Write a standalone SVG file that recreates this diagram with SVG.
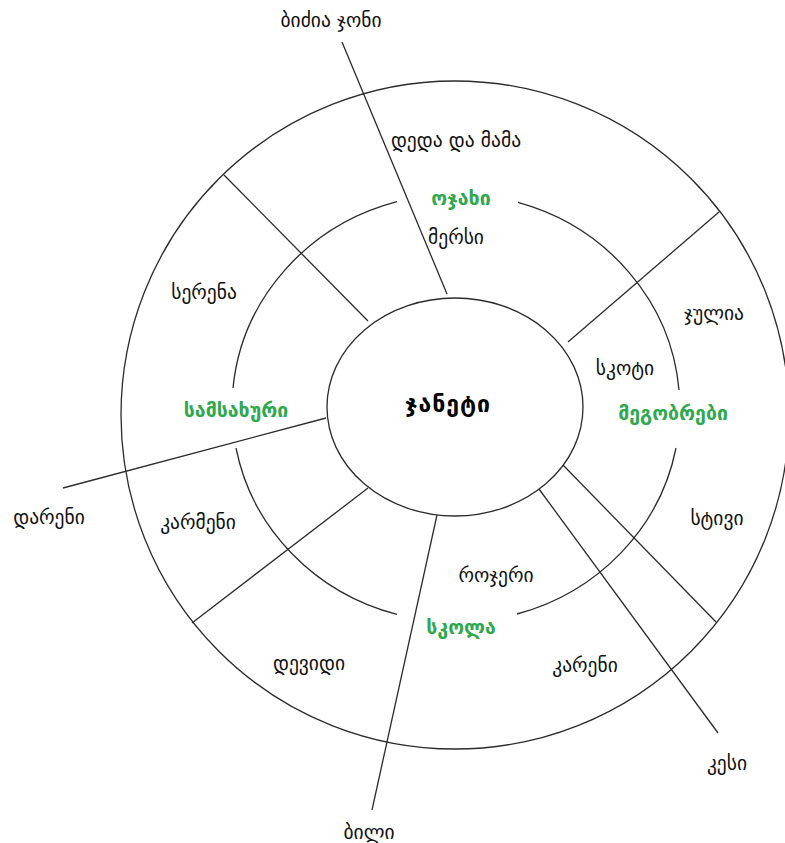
<svg xmlns="http://www.w3.org/2000/svg" width="785" height="843" viewBox="0 0 785 843">
<style>
.ln{fill:none;stroke:#2b2b2b;stroke-width:1.3}
.t{font-family:"DejaVu Sans","Noto Sans",sans-serif;font-size:19.5px;fill:#111;text-anchor:middle;dominant-baseline:central}
.g{font-weight:bold;fill:#2fa84f}
.b{font-weight:bold;fill:#000;font-size:23px;letter-spacing:1px}
</style>
<rect width="785" height="843" fill="#fff"/>
<g id="outer-ring"><circle class="ln" cx="455" cy="415" r="334"/></g>
<g id="middle-ring">
<path class="ln" d="M 518 202.4 A 224 214 0 0 1 679 390"/>
<path class="ln" d="M 676 448 A 224 214 0 0 1 517 614"/>
<path class="ln" d="M 397 614.4 A 224 214 0 0 1 236 448"/>
<path class="ln" d="M 233 388 A 224 214 0 0 1 397 201.6"/>
</g>
<g id="connectors">
<line class="ln" x1="342" y1="42" x2="447" y2="294"/>
<line class="ln" x1="224" y1="175" x2="368" y2="321"/>
<line class="ln" x1="719" y1="212" x2="568" y2="342"/>
<line class="ln" x1="63" y1="488" x2="326" y2="418"/>
<line class="ln" x1="192" y1="623" x2="368" y2="488"/>
<line class="ln" x1="372" y1="810" x2="437" y2="515"/>
<line class="ln" x1="563" y1="465" x2="716" y2="622"/>
<line class="ln" x1="539" y1="489" x2="718" y2="733"/>
</g>
<g id="center"><ellipse class="ln" cx="455" cy="407" rx="128" ry="109"/><text class="t b" x="448" y="404">ჯანეტი</text></g>
<g id="family"><text class="t g" x="461" y="198">ოჯახი</text></g>
<g id="work"><text class="t g" x="236" y="410">სამსახური</text></g>
<g id="friends"><text class="t g" x="673" y="413">მეგობრები</text></g>
<g id="school"><text class="t g" x="461" y="627">სკოლა</text></g>
<g id="n-mersi"><text class="t" x="456" y="237">მერსი</text></g>
<g id="n-dedadamama"><text class="t" x="456" y="140">დედა და მამა</text></g>
<g id="n-bidzia"><text class="t" x="331" y="20">ბიძია ჯონი</text></g>
<g id="n-serena"><text class="t" x="204" y="292">სერენა</text></g>
<g id="n-julia"><text class="t" x="714" y="313">ჯულია</text></g>
<g id="n-skoti"><text class="t" x="625" y="368">სკოტი</text></g>
<g id="n-stivi"><text class="t" x="717" y="518">სტივი</text></g>
<g id="n-kesi"><text class="t" x="727" y="763">კესი</text></g>
<g id="n-kareni"><text class="t" x="585" y="665">კარენი</text></g>
<g id="n-rojeri"><text class="t" x="496" y="575">როჯერი</text></g>
<g id="n-devidi"><text class="t" x="309" y="663">დევიდი</text></g>
<g id="n-bili"><text class="t" x="369" y="832">ბილი</text></g>
<g id="n-dareni"><text class="t" x="49" y="517">დარენი</text></g>
<g id="n-karmeni"><text class="t" x="198" y="522">კარმენი</text></g>
</svg>
